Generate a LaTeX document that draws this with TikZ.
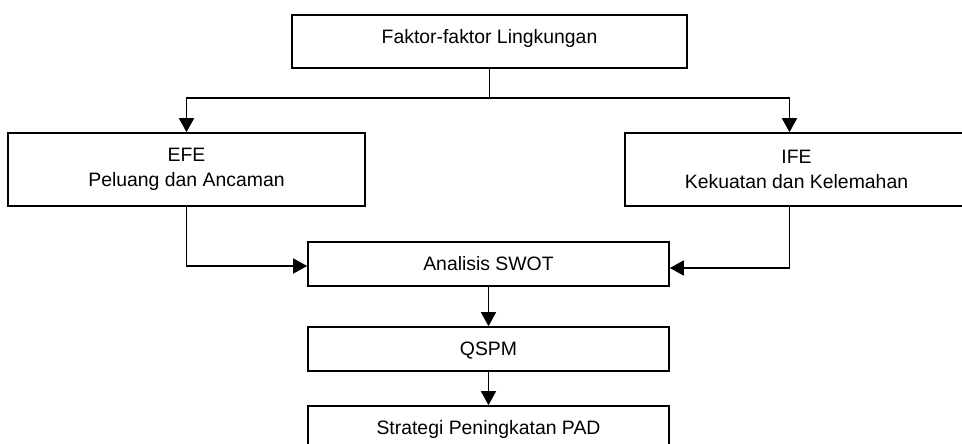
\documentclass[tikz,border=0pt]{standalone}
\usepackage{fontspec}
\setmainfont{Liberation Sans}
\usetikzlibrary{arrows.meta}
\tikzstyle{box} = [draw, rectangle, line width=1.6pt, align=center, inner sep=0pt, font=\fontsize{19.4}{25}\selectfont]
\tikzstyle{onerow} = [box, text height=13.9pt, text depth=0pt]
\tikzstyle{link} = [line width=1.6pt]
\tikzstyle{flow} = [link, -{Triangle[length=14pt,width=15pt]}]

\begin{document}
\begin{tikzpicture}[x=1pt, y=-1pt]
    \useasboundingbox (0,0) rectangle (962,444);
    \node[onerow, text depth=9pt, minimum width=395pt, minimum height=53pt] (faktor) at (489.5,41.5) {Faktor-faktor Lingkungan};
    \node[box, minimum width=357pt, minimum height=73pt] (efe) at (186.5,169.5) {EFE\\Peluang dan Ancaman};
    \node[box, minimum width=343pt, minimum height=73pt] (ife) at (796.5,169.5) {IFE\\Kekuatan dan Kelemahan};
    \node[onerow, minimum width=361pt, minimum height=44pt] (swot) at (488.5,264) {Analisis SWOT};
    \node[onerow, minimum width=361pt, minimum height=44pt] (qspm) at (488.5,349) {QSPM};
    \node[onerow, minimum width=361pt, minimum height=44pt] (pad) at (488.5,428) {Strategi Peningkatan PAD};
    \coordinate (split) at (faktor.south |- 0,98);
    \draw[link] (faktor.south) -- (split);
    \draw[flow] (split) -| (efe.north);
    \draw[flow] (split) -| ([xshift=-7pt]ife.north);
    \draw[flow] (efe.south) |- ([yshift=-2pt]swot.west);
    \draw[flow] ([xshift=-7pt]ife.south) |- ([yshift=-4pt]swot.east);
    \draw[flow] (swot) -- (qspm);
    \draw[flow] (qspm) -- (pad);
\end{tikzpicture}
\end{document}
